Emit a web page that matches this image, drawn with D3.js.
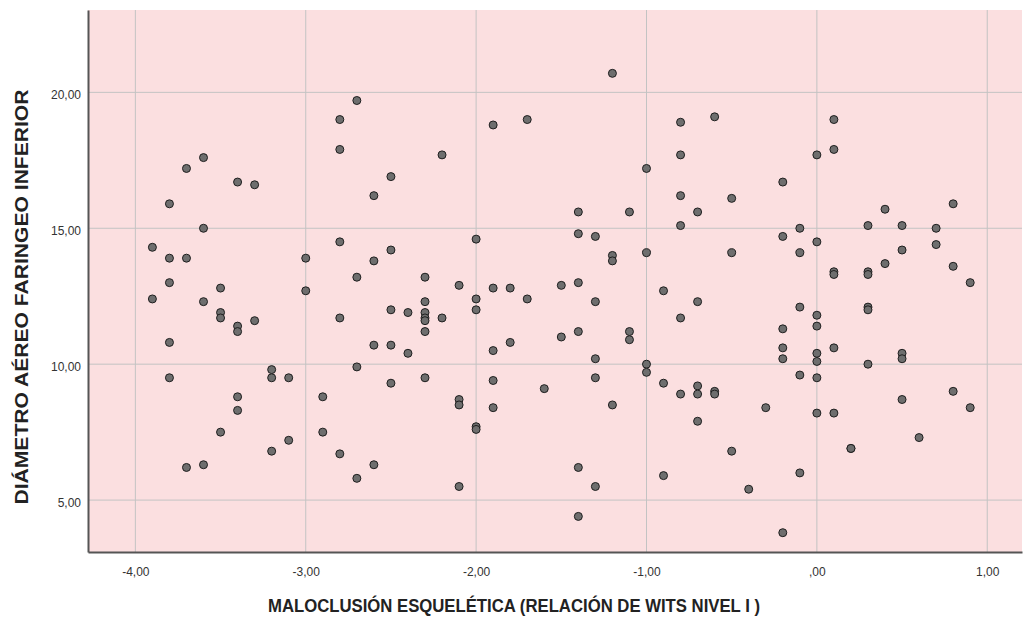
<!DOCTYPE html>
<html>
<head>
<meta charset="utf-8">
<script src="https://cdn.jsdelivr.net/npm/d3@7"></script>
<style>
  body { margin: 0; background: #fff; }
  text { font-family: "Liberation Sans", Arial, sans-serif; }
</style>
</head>
<body>
<div id="chart"></div>
<script>
// Wits relation (x) and lower pharyngeal airway diameter (y)
const witsValues = [
  -3.9, -3.9,
  -3.8, -3.8, -3.8, -3.8, -3.8,
  -3.7, -3.7, -3.7,
  -3.6, -3.6, -3.6, -3.6,
  -3.5, -3.5, -3.5, -3.5,
  -3.4, -3.4, -3.4, -3.4, -3.4,
  -3.3, -3.3,
  -3.2, -3.2, -3.2,
  -3.1, -3.1,
  -3.0, -3.0,
  -2.9, -2.9,
  -2.8, -2.8, -2.8, -2.8, -2.8,
  -2.7, -2.7, -2.7, -2.7,
  -2.6, -2.6, -2.6, -2.6,
  -2.5, -2.5, -2.5, -2.5, -2.5,
  -2.4, -2.4,
  -2.3, -2.3, -2.3, -2.3, -2.3, -2.3, -2.3,
  -2.2, -2.2,
  -2.1, -2.1, -2.1, -2.1,
  -2.0, -2.0, -2.0, -2.0, -2.0,
  -1.9, -1.9, -1.9, -1.9, -1.9,
  -1.8, -1.8,
  -1.7, -1.7,
  -1.6,
  -1.5, -1.5,
  -1.4, -1.4, -1.4, -1.4, -1.4, -1.4,
  -1.3, -1.3, -1.3, -1.3, -1.3,
  -1.2, -1.2, -1.2, -1.2,
  -1.1, -1.1, -1.1,
  -1.0, -1.0, -1.0, -1.0,
  -0.9, -0.9, -0.9,
  -0.8, -0.8, -0.8, -0.8, -0.8, -0.8,
  -0.7, -0.7, -0.7, -0.7, -0.7,
  -0.6, -0.6, -0.6,
  -0.5, -0.5, -0.5,
  -0.4,
  -0.3,
  -0.2, -0.2, -0.2, -0.2, -0.2, -0.2,
  -0.1, -0.1, -0.1, -0.1, -0.1,
  0.0, 0.0, 0.0, 0.0, 0.0, 0.0, 0.0, 0.0,
  0.1, 0.1, 0.1, 0.1, 0.1, 0.1,
  0.2, 0.2,
  0.3, 0.3, 0.3, 0.3, 0.3, 0.3,
  0.4, 0.4,
  0.5, 0.5, 0.5, 0.5, 0.5,
  0.6,
  0.7, 0.7,
  0.8, 0.8, 0.8,
  0.9, 0.9
];

const diameterValues = [
  14.3, 12.4,
  15.9, 13.9, 13.0, 10.8, 9.5,
  17.2, 13.9, 6.2,
  17.6, 15.0, 12.3, 6.3,
  12.8, 11.9, 11.7, 7.5,
  16.7, 11.4, 11.2, 8.8, 8.3,
  16.6, 11.6,
  9.8, 9.5, 6.8,
  9.5, 7.2,
  13.9, 12.7,
  8.8, 7.5,
  19.0, 17.9, 14.5, 11.7, 6.7,
  19.7, 13.2, 9.9, 5.8,
  16.2, 13.8, 10.7, 6.3,
  16.9, 14.2, 12.0, 10.7, 9.3,
  11.9, 10.4,
  13.2, 12.3, 11.9, 11.7, 11.6, 11.2, 9.5,
  17.7, 11.7,
  12.9, 8.7, 8.5, 5.5,
  14.6, 12.4, 12.0, 7.7, 7.6,
  18.8, 12.8, 10.5, 9.4, 8.4,
  12.8, 10.8,
  19.0, 12.4,
  9.1,
  12.9, 11.0,
  15.6, 14.8, 13.0, 11.2, 6.2, 4.4,
  14.7, 12.3, 10.2, 9.5, 5.5,
  20.7, 14.0, 13.8, 8.5,
  15.6, 11.2, 10.9,
  17.2, 14.1, 10.0, 9.7,
  12.7, 9.3, 5.9,
  18.9, 17.7, 16.2, 15.1, 11.7, 8.9,
  15.6, 12.3, 9.2, 8.9, 7.9,
  19.1, 9.0, 8.9,
  16.1, 14.1, 6.8,
  5.4,
  8.4,
  16.7, 14.7, 11.3, 10.6, 10.2, 3.8,
  15.0, 14.1, 12.1, 9.6, 6.0,
  17.7, 14.5, 11.8, 11.4, 10.4, 10.1, 9.5, 8.2,
  19.0, 17.9, 13.4, 13.3, 10.6, 8.2,
  6.9, 6.9,
  15.1, 13.4, 13.3, 12.1, 12.0, 10.0,
  15.7, 13.7,
  15.1, 14.2, 10.4, 10.2, 8.7,
  7.3,
  15.0, 14.4,
  15.9, 13.6, 9.0,
  13.0, 8.4
];

const xTickValues = [-4, -3, -2, -1, 0, 1];
const xTickLabels = ["-4,00", "-3,00", "-2,00", "-1,00", ",00", "1,00"];
const yTickValues = [5, 10, 15, 20];
const yTickLabels = ["5,00", "10,00", "15,00", "20,00"];

const xTitle = "MALOCLUSIÓN  ESQUELÉTICA (RELACIÓN DE WITS NIVEL I )";
const yTitle = "DIÁMETRO AÉREO FARINGEO INFERIOR";

const width = 1024, height = 619;
const plot = { left: 88, top: 10, right: 1022, bottom: 552 };

const svg = d3.select('#chart')
  .append('svg')
  .attr('width', width)
  .attr('height', height);

const x = d3.scaleLinear().domain([-4.278, 1.204]).range([plot.left, plot.right]);
const y = d3.scaleLinear().domain([3.09, 23.03]).range([plot.bottom, plot.top]);

// plot background
svg.append('rect')
  .attr('x', plot.left)
  .attr('y', plot.top)
  .attr('width', plot.right - plot.left)
  .attr('height', plot.bottom - plot.top)
  .attr('fill', '#fbdfe0');

// grid lines
svg.append('g').selectAll('line')
  .data(xTickValues)
  .enter().append('line')
  .attr('x1', d => x(d)).attr('x2', d => x(d))
  .attr('y1', plot.top).attr('y2', plot.bottom)
  .attr('stroke', '#c3c3c3').attr('stroke-width', 1);

svg.append('g').selectAll('line')
  .data(yTickValues)
  .enter().append('line')
  .attr('x1', plot.left).attr('x2', plot.right)
  .attr('y1', d => y(d)).attr('y2', d => y(d))
  .attr('stroke', '#c3c3c3').attr('stroke-width', 1);

// axes
const xAxis = svg.append('g')
  .attr('transform', `translate(0,${plot.bottom})`)
  .call(d3.axisBottom(x).tickValues(xTickValues)
    .tickFormat((d, i) => xTickLabels[i]).tickSize(0).tickPadding(15));
xAxis.select('.domain').attr('stroke', '#555').attr('stroke-width', 2);
xAxis.selectAll('text').attr('font-size', 12).attr('fill', '#333');

const yAxis = svg.append('g')
  .attr('transform', `translate(${plot.left},0)`)
  .call(d3.axisLeft(y).tickValues(yTickValues)
    .tickFormat((d, i) => yTickLabels[i]).tickSize(0).tickPadding(7));
yAxis.select('.domain').attr('stroke', '#555').attr('stroke-width', 2);
yAxis.selectAll('text').attr('font-size', 12).attr('fill', '#333').attr('dy', '0.55em');

// points
svg.append('g').selectAll('circle')
  .data(witsValues.map((w, i) => [w, diameterValues[i]]))
  .enter().append('circle')
  .attr('cx', d => x(d[0]))
  .attr('cy', d => y(d[1]))
  .attr('r', 4)
  .attr('fill', '#6e6e6e')
  .attr('stroke', '#1e1e1e')
  .attr('stroke-width', 1);

// axis titles
svg.append('text')
  .attr('x', 514).attr('y', 612)
  .attr('text-anchor', 'middle')
  .attr('font-size', 18)
  .attr('font-weight', 'bold')
  .attr('fill', '#222')
  .attr('textLength', 492)
  .attr('lengthAdjust', 'spacingAndGlyphs')
  .text(xTitle);

svg.append('text')
  .attr('transform', 'translate(28,297) rotate(-90)')
  .attr('text-anchor', 'middle')
  .attr('font-size', 18)
  .attr('font-weight', 'bold')
  .attr('fill', '#222')
  .attr('textLength', 415)
  .attr('lengthAdjust', 'spacingAndGlyphs')
  .text(yTitle);
</script>
</body>
</html>
